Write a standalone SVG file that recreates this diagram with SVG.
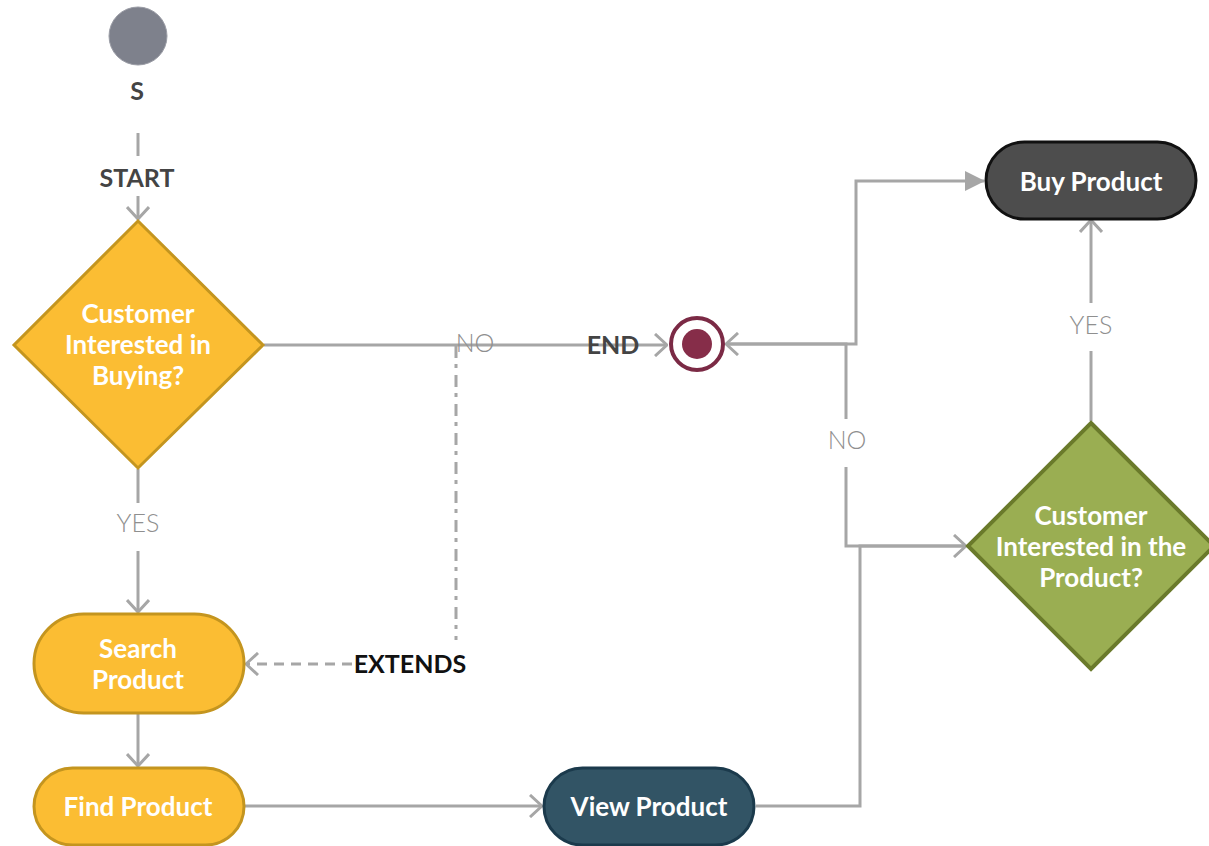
<svg xmlns="http://www.w3.org/2000/svg" width="1209" height="846" viewBox="0 0 1209 846">
<defs>
<style>
.t{font-family:Lato,"Liberation Sans",sans-serif;font-weight:bold;font-size:26px;fill:#fff;text-anchor:middle}
.lb{font-family:Lato,"Liberation Sans",sans-serif;font-size:25px;text-anchor:middle}
.light{font-weight:300;fill:#8f8f8f}
.dark{font-weight:bold;fill:#444}
.conn{fill:none;stroke:#a6a6a6;stroke-width:3}
.yel{fill:#fbbd33;stroke:#c4951f;stroke-width:3}
</style>
<marker id="open" viewBox="0 0 14 24" refX="13" refY="12" markerWidth="14" markerHeight="24" markerUnits="userSpaceOnUse" orient="auto">
<path d="M1,1 L13,12 L1,23" fill="none" stroke="#a6a6a6" stroke-width="3"/>
</marker>
<marker id="fill" viewBox="0 0 20 22" refX="19" refY="11" markerWidth="20" markerHeight="22" markerUnits="userSpaceOnUse" orient="auto">
<path d="M0,1 L20,11 L0,21 Z" fill="#a6a6a6"/>
</marker>
</defs>
<rect width="1209" height="846" fill="#fff"/>

<g id="connectors">
<path class="conn" d="M138,133 L138,219" marker-end="url(#open)"/>
<rect x="92" y="156" width="92" height="40" fill="#fff"/>
<text class="lb dark" x="137" y="187">START</text>

<path class="conn" d="M138,469 L138,612" marker-end="url(#open)"/>
<rect x="112" y="503" width="52" height="48" fill="#fff"/>
<text class="lb light" x="138" y="532">YES</text>

<path class="conn" d="M138,714 L138,766" marker-end="url(#open)"/>
<path class="conn" d="M245,806 L542,806" marker-end="url(#open)"/>
<path class="conn" d="M756,806 L860,806 L860,546 L966,546" marker-end="url(#open)"/>
<path class="conn" d="M966,546 L846,546 L846,344 L726,344" marker-end="url(#open)"/>
<rect x="820" y="419" width="54" height="48" fill="#fff"/>
<text class="lb light" x="847" y="449">NO</text>
<path class="conn" d="M726,344 L856,344 L856,181 L984,181" marker-end="url(#fill)"/>
<path class="conn" d="M1091,421 L1091,220" marker-end="url(#open)"/>
<rect x="1064" y="303" width="54" height="48" fill="#fff"/>
<text class="lb light" x="1091" y="334">YES</text>

<path class="conn" d="M264,345 L667,345" marker-end="url(#open)"/>
<path class="conn" d="M456,346 L456,640" stroke-dasharray="12 6 4 7"/>
<path class="conn" d="M352,664 L246,664" stroke-dasharray="10 7" marker-end="url(#open)"/>
<text class="lb light" x="475" y="352">NO</text>
<text class="lb dark" x="613" y="354">END</text>
<text class="lb" x="410" y="673" font-weight="bold" fill="#111">EXTENDS</text>
</g>

<g id="start">
<circle cx="138" cy="36" r="29" fill="#7e818c" stroke="#9a9ca5" stroke-width="1"/>
<text class="lb dark" x="137" y="100">S</text>
</g>

<g id="end">
<circle cx="697" cy="344" r="26" fill="#fff" stroke="#7b2a45" stroke-width="4"/>
<circle cx="697" cy="344" r="15" fill="#862d49"/>
</g>

<g id="decision-buying">
<polygon class="yel" points="138,221 263,345 138,468 14,345" stroke-width="4"/>
<text class="t" x="138" y="323">Customer</text>
<text class="t" x="138" y="354">Interested in</text>
<text class="t" x="138" y="385">Buying?</text>
</g>

<g id="search-product">
<rect class="yel" x="34" y="614" width="210" height="99" rx="49.5"/>
<text class="t" x="138" y="658">Search</text>
<text class="t" x="138" y="689">Product</text>
</g>

<g id="find-product">
<rect class="yel" x="34" y="768" width="210" height="77" rx="38.5"/>
<text class="t" x="138" y="816">Find Product</text>
</g>

<g id="view-product">
<rect x="544" y="768" width="210" height="77" rx="38.5" fill="#325465" stroke="#1b3a4c" stroke-width="3"/>
<text class="t" x="649" y="816">View Product</text>
</g>

<g id="decision-product">
<polygon points="1091,423 1214,546 1091,669 968,546" fill="#9aae52" stroke="#6a7a2b" stroke-width="4"/>
<text class="t" x="1091" y="525">Customer</text>
<text class="t" x="1091" y="556">Interested in the</text>
<text class="t" x="1091" y="587">Product?</text>
</g>

<g id="buy-product">
<rect x="986" y="142" width="210" height="77" rx="38.5" fill="#4d4d4d" stroke="#111" stroke-width="3"/>
<text class="t" x="1091" y="191">Buy Product</text>
</g>
</svg>
